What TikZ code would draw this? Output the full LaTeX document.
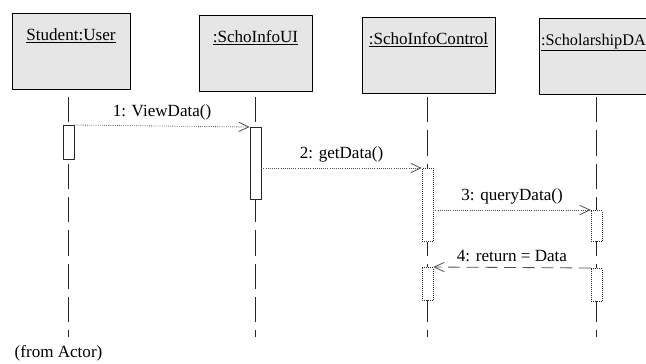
\documentclass[tikz,border=0pt]{standalone}
\usepackage{fontspec}
\setmainfont{Liberation Serif}
\usetikzlibrary{arrows.meta}
\definecolor{boxgray}{RGB}{230,230,230}
\definecolor{msggray}{RGB}{80,80,80}

\begin{document}
\begin{tikzpicture}[x=0.75pt,y=-0.75pt,line join=round,
    every node/.style={font=\fontsize{12.8}{15}\selectfont},
    obj/.style={draw,fill=boxgray,line width=0.6pt,inner xsep=3pt,inner ysep=0pt,
      text height=20pt,text depth=37pt,anchor=north},
    lifeline/.style={black!85,line width=0.6pt,dash pattern=on 19pt off 6pt},
    act/.style={draw=black!85,fill=white,line width=0.5pt,minimum width=8.25pt,
      inner sep=0pt,anchor=north},
    actdot/.style={act,densely dotted},
    msg/.style={draw=msggray,densely dotted,line width=0.6pt,
      -{Straight Barb[length=7.5pt,width=7pt]}},
    ret/.style={msg,dash pattern=on 9pt off 5pt}]
        \clip (0,0) rectangle (646,364);
        % objects
        \node[obj,minimum width=88.5pt] (user) at (71,13) {\underline{Student:User}};
        \node[obj,minimum width=84.75pt] (ui) at (255.5,15) {\underline{:SchoInfoUI}};
        \node[obj,minimum width=99.75pt] (ctrl) at (428.5,17) {\underline{:SchoInfoControl}};
        \node[obj,anchor=north west,text width=105pt,align=left,inner xsep=1.2pt,
          font=\fontsize{12.2}{15}\selectfont] (dao) at (539,18)
          {\underline{:ScholarshipDA}};
        % lifelines
        \foreach \n/\x in {user/68.5,ui/255.5,ctrl/427.5,dao/596.5}{
          \coordinate (\n top) at (\x,97);
          \coordinate (\n bot) at (\x,337);
          \draw[lifeline] (\n top) -- (\n bot);
        }
        % activations
        \node[act,minimum height=25.5pt] (actUser) at (68.5,125) {};
        \node[act,minimum height=54pt] (actUI) at (255.5,127) {};
        \node[actdot,minimum height=55pt] (actCtrlA) at (427.5,168) {};
        \node[actdot,minimum height=23.25pt] (actDaoA) at (596.5,210) {};
        \node[actdot,minimum height=24.75pt] (actCtrlB) at (427.5,267) {};
        \node[actdot,minimum height=24.75pt] (actDaoB) at (596.5,268) {};
        % messages
        \draw[msg] (actUser.north east) -- (actUI.north west)
          node[midway,above=1pt] {1: ViewData()};
        \draw[msg] (actUI.east |- actCtrlA.north) -- (actCtrlA.north west)
          node[midway,above=1pt] {2: getData()};
        \draw[msg] (actCtrlA.east |- actDaoA.north) -- (actDaoA.north west)
          node[midway,above=1pt] {3: queryData()};
        \draw[ret] (actDaoB.north west) -- (actCtrlB.north east)
          node[midway,above=1pt] {4: return = Data};
        \node[anchor=west] (fromActor) at (10,353) {(from Actor)};
      \end{tikzpicture}
\end{document}
